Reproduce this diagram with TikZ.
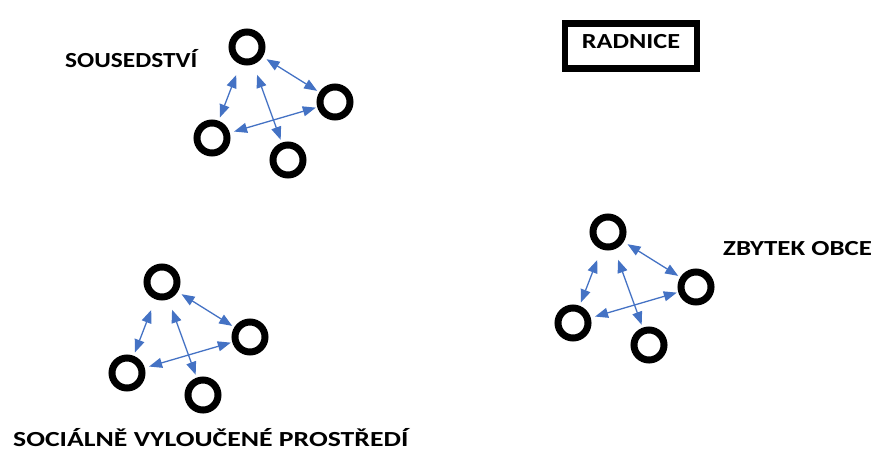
\documentclass[tikz,border=0pt]{standalone}
\usepackage{fontspec}
\setmainfont{Carlito}
\usetikzlibrary{arrows.meta}
\definecolor{linkblue}{RGB}{68,114,196}
\tikzset{
  ring/.style={circle, draw=black, line width=7pt, minimum size=30pt, inner sep=0pt, outer sep=0pt},
  link/.style={draw=linkblue, line width=1.3pt, {Triangle[length=13pt,width=10pt]}-{Triangle[length=13pt,width=10pt]}},
  lbl/.style={font=\fontsize{21.5}{24}\selectfont\bfseries, inner sep=0pt, anchor=base west}
}
\begin{document}
\begin{tikzpicture}[x=1pt,y=-1pt]
\useasboundingbox (0,0) rectangle (872,450);
\foreach \p/\dx/\dy in {t/0/0, r/361/185, l/-85/235} {
  \begin{scope}[shift={(\dx,\dy)}]
    \node[ring] (\p A) at (247,47) {};
    \node[ring] (\p B) at (335,102) {};
    \node[ring] (\p C) at (212,138) {};
    \node[ring] (\p D) at (288,160) {};
    \draw[link, shorten <=15pt, shorten >=7pt] (\p A) -- (\p C);
    \draw[link, shorten <=14.5pt, shorten >=6.5pt] (\p A) -- (\p D);
    \draw[link, shorten <=8pt, shorten >=6pt] (\p A) -- (\p B);
    \draw[link, shorten <=8pt, shorten >=5pt] (\p C) -- (\p B);
  \end{scope}
}
\node[lbl] (sous) at (65,67) {\addfontfeature{FakeStretch=1.18}SOUSEDSTVÍ};
\node[lbl] (zbyt) at (723,255) {\addfontfeature{FakeStretch=1.25}ZBYTEK OBCE};
\node[lbl] (soc) at (13,446) {\addfontfeature{FakeStretch=1.29}SOCIÁLNĚ VYLOUČENÉ PROSTŘEDÍ};
\node[draw=black, line width=6.5pt, minimum width=132pt, minimum height=45pt, inner sep=0pt] (rad) at (631,46) {};
\node[lbl, anchor=base] (radt) at (631,48.5) {\addfontfeature{FakeStretch=1.22}RADNICE};
\end{tikzpicture}
\end{document}
